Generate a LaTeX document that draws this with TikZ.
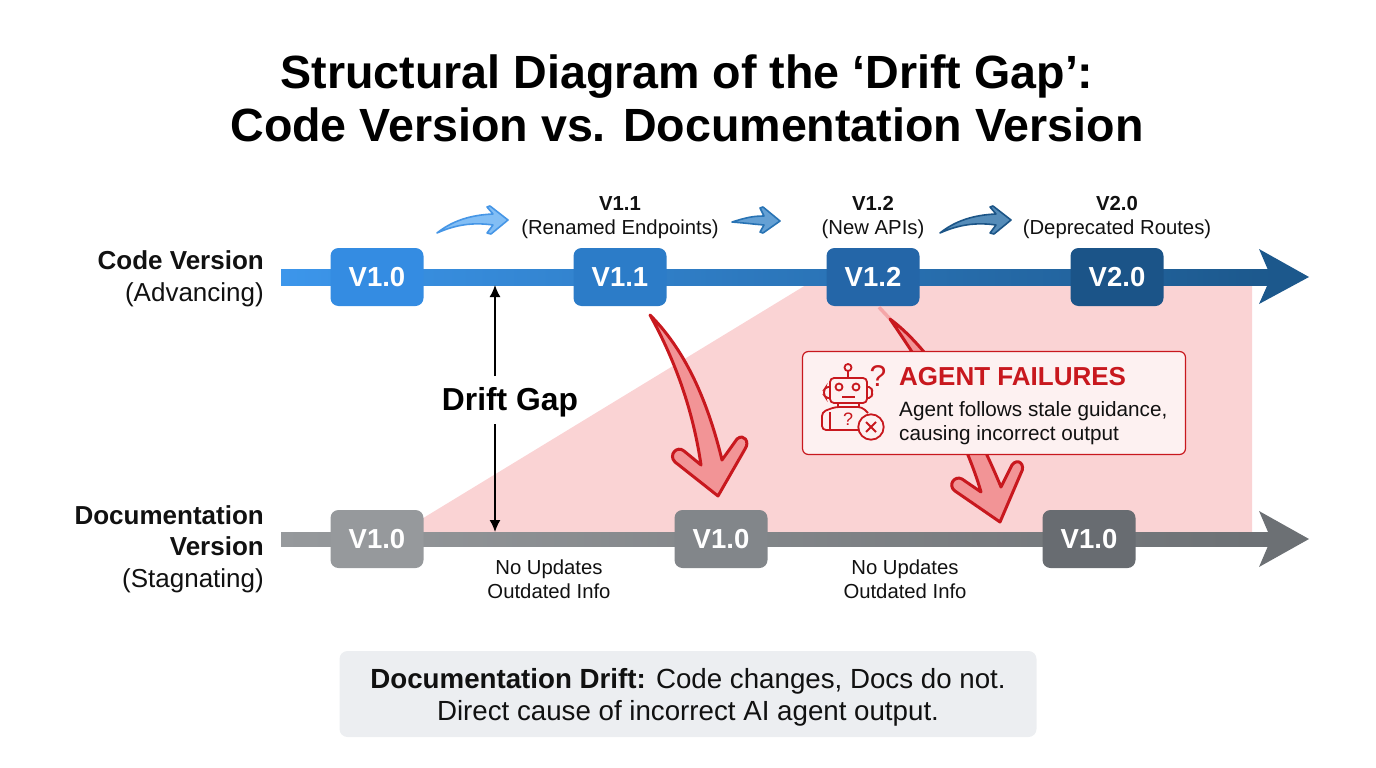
\documentclass[tikz,border=0pt]{standalone}
\usepackage{fontspec}
\setmainfont{Liberation Sans}
\usetikzlibrary{calc,arrows.meta}
\definecolor{inkc}{HTML}{111111}
\definecolor{redc}{HTML}{C8181E}
\definecolor{pinkc}{HTML}{FAD3D4}
\definecolor{arrowfill}{HTML}{F29496}
\definecolor{tailpink}{HTML}{F4A6A8}
\definecolor{boxfill}{HTML}{FDF1F1}
\definecolor{codeL}{RGB}{60,150,235}
\definecolor{codeR}{RGB}{28,88,140}
\definecolor{docL}{RGB}{150,153,156}
\definecolor{docR}{RGB}{108,112,116}
\definecolor{cA}{RGB}{52,140,226}
\definecolor{cB}{RGB}{44,124,200}
\definecolor{cC}{RGB}{36,102,168}
\definecolor{cD}{RGB}{27,84,136}
\definecolor{dA}{RGB}{150,153,156}
\definecolor{dB}{RGB}{130,134,138}
\definecolor{dC}{RGB}{104,108,113}
\definecolor{miniAd}{RGB}{70,150,230}
\definecolor{miniAf}{RGB}{130,190,245}
\definecolor{miniBd}{RGB}{40,115,180}
\definecolor{miniBf}{RGB}{100,160,212}
\definecolor{miniCd}{RGB}{28,85,135}
\definecolor{miniCf}{RGB}{85,140,185}
\definecolor{footc}{RGB}{236,238,241}
\tikzset{
  ver/.style={rounded corners=8pt,minimum width=93pt,minimum height=58pt,inner sep=0pt,text=white,font=\bfseries\fontsize{27.5}{27.5}\selectfont},
  lbl/.style={align=center,text=inkc,inner sep=0pt,font=\fontsize{20.3}{24}\selectfont},
  side/.style={align=right,anchor=east,text=inkc,inner sep=0pt,font=\fontsize{26}{31.5}\selectfont},
  failarrow/.style={draw=redc,line width=3pt,fill=arrowfill,line join=round},
  minibend/.style={line width=1.6pt,line join=round},
  gaparrow/.style={-{Latex[length=12pt,width=11pt]},line width=1.5pt,black},
}
\begin{document}
\begin{tikzpicture}[x=1pt,y=-1pt]
\useasboundingbox (0,0) rectangle (1376,768);
% title
\node[inner sep=0pt,align=center,font=\bfseries\fontsize{46.6}{53}\selectfont,text=black] (title) at (687,98) {Structural Diagram of the ‘Drift Gap’:\\Code Version vs. Documentation Version};
% pink area
\fill[pinkc] (420,520) -- (806,285) -- (1252,285) -- (1252,532) -- (420,532) -- cycle;
% code axis
\shade[left color=codeL,right color=codeR] (281,269) rectangle (1275,285);
\fill[codeR] (1259,249) -- (1309,277) -- (1259,304) -- (1271,277) -- cycle;
% doc axis
\shade[left color=docL,right color=docR] (281,532) rectangle (1275,546);
\fill[docR] (1259,511) -- (1309,539) -- (1259,567) -- (1271,539) -- cycle;
% version nodes
\node[ver,fill=cA] (c0) at (377,277) {V1.0};
\node[ver,fill=cB] (c1) at (620,277) {V1.1};
\node[ver,fill=cC] (c2) at (873,277) {V1.2};
\node[ver,fill=cD] (c3) at (1117,277) {V2.0};
\node[ver,fill=dA] (d0) at (377,539) {V1.0};
\node[ver,fill=dB] (d1) at (721,539) {V1.0};
\node[ver,fill=dC] (d2) at (1089,539) {V1.0};
% side labels
\node[side] (codelbl) at (264,279) {\textbf{Code Version}\\(Advancing)};
\node[side] (doclbl) at (264,549) {\textbf{Documentation}\\\textbf{Version}\\(Stagnating)};
% top labels
\node[lbl] (t1) at (620,218) {\textbf{V1.1}\\(Renamed Endpoints)};
\node[lbl] (t2) at (873,218) {\textbf{V1.2}\\(New APIs)};
\node[lbl] (t3) at (1117,218) {\textbf{V2.0}\\(Deprecated Routes)};
% small curved arrows
\draw[minibend,draw=miniAd,fill=miniAf]
  (437,233) .. controls (452,221) and (470,215) .. (493,214) -- (487,207) -- (490,206) -- (508,220) -- (491,234) -- (487,233) -- (493,225) .. controls (472,222) and (455,225) .. (437,233) -- cycle;
\draw[minibend,draw=miniBd,fill=miniBf]
  (732,222) .. controls (745,218) and (752,216) .. (764,216) -- (760,208) -- (763,207) -- (780,221) -- (763,233) -- (760,232) -- (764,225) .. controls (752,224) and (745,223) .. (732,222) -- cycle;
\draw[minibend,draw=miniCd,fill=miniCf]
  (940,233) .. controls (955,221) and (973,215) .. (996,214) -- (990,207) -- (993,206) -- (1011,220) -- (994,234) -- (990,233) -- (996,225) .. controls (975,222) and (958,225) .. (940,233) -- cycle;
% under-axis labels
\node[lbl] (n1) at (549,579) {No Updates\\Outdated Info};
\node[lbl] (n2) at (905,579) {No Updates\\Outdated Info};
% drift gap
\node[inner sep=0pt,text=black,font=\bfseries\fontsize{31.8}{32}\selectfont] (gap) at (510,402) {Drift Gap};
\coordinate (gaptop) at (495,285);
\coordinate (gapbot) at (495,532);
\coordinate (gapa) at (495,376);
\coordinate (gapb) at (495,424);
\draw[gaparrow] (gapa) -- (gaptop);
\draw[gaparrow] (gapb) -- (gapbot);
% failure arrows
\draw[failarrow] (650,315) .. controls (680,345) and (705,390) .. (722,460) -- (737,439) .. controls (744,433) and (750,442) .. (745,449) -- (718,496) -- (675,462) .. controls (668,455) and (677,445) .. (684,451) -- (701,465) .. controls (693,410) and (675,360) .. (650,315) -- cycle;
\coordinate (tailtop) at ($(c2.south)+(6,1)$);
\coordinate (tailend) at (890,319);
\draw[tailpink,line width=3.5pt] (tailtop) -- (tailend);
\draw[failarrow] (tailend) .. controls (925,345) and (965,400) .. (1001,487) -- (1012,465) .. controls (1018,457) and (1026,465) .. (1021,473) -- (1000,522) -- (955,491) .. controls (947,485) and (955,475) .. (962,479) -- (981,492) .. controls (963,430) and (925,370) .. (tailend) -- cycle;
% failure box
\node[draw=redc,line width=1.2pt,fill=boxfill,rounded corners=6pt,minimum width=383pt,minimum height=103pt,inner sep=0pt] (fail) at (994,403) {};
\node[anchor=west,inner sep=0pt,text=redc,font=\bfseries\fontsize{26}{26}\selectfont] (failt) at (899,377) {AGENT FAILURES};
\node[anchor=west,align=left,inner sep=0pt,text=inkc,font=\fontsize{20.7}{23.5}\selectfont] (failb) at (899,423) {Agent follows stale guidance,\\causing incorrect output};
% robot icon
\begin{scope}[draw=redc,line width=1.8pt]
  \draw[rounded corners=4pt] (830,378) rectangle (867,403);
  \draw (848,378) -- (848,371);
  \draw (848,367.5) circle (3.5pt);
  \draw[rounded corners=2pt] (830,387) -- (826,387) -- (824,390) -- (824,395) -- (826,398) -- (830,398);
  \draw[rounded corners=2pt] (867,387) -- (871,387) -- (872,390) -- (872,395) -- (871,398) -- (867,398);
  \draw (839,387) circle (3.5pt);
  \draw (856,387) circle (3.5pt);
  \draw (842,397) -- (855,397);
  \draw (838,403) -- (838,407);
  \draw (859,403) -- (859,407);
  \draw[rounded corners=4pt] (860,430) -- (822,430) -- (822,412) -- (835,407) -- (862,407) -- (868,413);
  \draw (830,412) -- (830,430);
  \draw[fill=boxfill] (871,427) circle (12.7pt);
  \draw (866,422) -- (876,432) (876,422) -- (866,432);
\end{scope}
\node[inner sep=0pt,text=redc,font=\fontsize{30}{30}\selectfont] (q1) at (878,376) {?};
\node[inner sep=0pt,text=redc,font=\fontsize{18}{18}\selectfont] (q2) at (848,419) {?};
% footer
\node[fill=footc,rounded corners=8pt,minimum width=697pt,minimum height=86pt,inner sep=0pt] (foot) at (688,694) {};
\node[inner sep=0pt,align=center,text=inkc,font=\fontsize{27.7}{32}\selectfont] (foottext) at (688,697) {\textbf{Documentation Drift:} Code changes, Docs do not.\\Direct cause of incorrect AI agent output.};
\end{tikzpicture}
\end{document}
